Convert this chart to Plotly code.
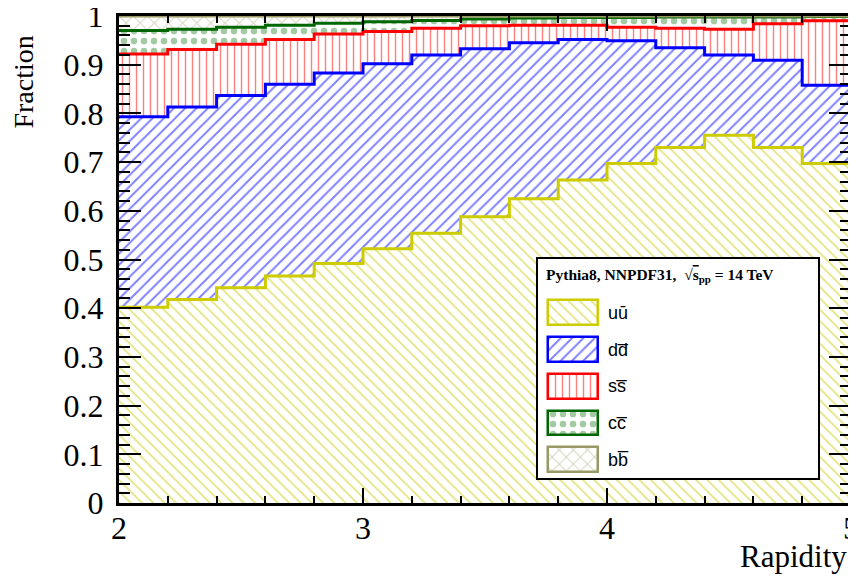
import plotly.graph_objects as go

# ---- data (fraction of each quark-antiquark flavour per rapidity bin) ----
bin_edges = [2.0, 2.2, 2.4, 2.6, 2.8, 3.0, 3.2, 3.4, 3.6, 3.8, 4.0, 4.2, 4.4, 4.6, 4.8, 5.0]
frac_uu = [0.402, 0.418, 0.442, 0.466, 0.492, 0.522, 0.554, 0.588, 0.625, 0.663, 0.697, 0.730, 0.755, 0.730, 0.697]
frac_dd = [0.391, 0.395, 0.395, 0.394, 0.391, 0.380, 0.366, 0.345, 0.320, 0.289, 0.252, 0.205, 0.165, 0.179, 0.161]
frac_ss = [0.129, 0.118, 0.105, 0.092, 0.080, 0.066, 0.055, 0.047, 0.036, 0.029, 0.028, 0.040, 0.053, 0.075, 0.132]
frac_cc = [0.048, 0.042, 0.035, 0.029, 0.022, 0.020, 0.016, 0.014, 0.015, 0.016, 0.020, 0.023, 0.025, 0.014, 0.009]
frac_bb = [0.030, 0.027, 0.023, 0.019, 0.015, 0.012, 0.009, 0.006, 0.004, 0.003, 0.003, 0.002, 0.002, 0.002, 0.001]

labels = ["u\u016B", "dd\u0305", "ss\u0305", "cc\u0305", "bb\u0305"]
y_ticks = [0, 0.1, 0.2, 0.3, 0.4, 0.5, 0.6, 0.7, 0.8, 0.9, 1]
y_ticktext = ["0", "0.1", "0.2", "0.3", "0.4", "0.5", "0.6", "0.7", "0.8", "0.9", "1"]
x_ticks = [2, 3, 4, 5]

styles = [
    dict(line="#CCCC00", fg="#C8C800", shape="\\", size=8, sol=0.22),
    dict(line="#0000FF", fg="#0000FF", shape="/", size=8, sol=0.24),
    dict(line="#FF0000", fg="#FF0000", shape="|", size=7, sol=0.2),
    dict(line="#006600", fg="#4A964A", shape=".", size=10, sol=0.35),
    dict(line="#999966", fg="#A8A880", shape="x", size=10, sol=0.18),
]

series = [frac_uu, frac_dd, frac_ss, frac_cc, frac_bb]

fig = go.Figure()

# stacked step histograms
cum = [0.0] * len(frac_uu)
for i, (vals, st, lab) in enumerate(zip(series, styles, labels)):
    cum = [a + b for a, b in zip(cum, vals)]
    fig.add_trace(go.Scatter(
        x=bin_edges, y=cum + [cum[-1]],
        mode="lines", line=dict(shape="hv", color=st["line"], width=3),
        fill="tozeroy" if i == 0 else "tonexty",
        fillcolor="rgba(0,0,0,0)",
        fillpattern=dict(shape=st["shape"], fgcolor=st["fg"], bgcolor="white",
                         size=st["size"], solidity=st["sol"], fillmode="overlay"),
        name=lab, showlegend=False, hoverinfo="skip",
    ))

# ---- custom legend drawn in an inset subplot ----
rows = list(range(len(labels)))
for i, (st, lab) in enumerate(zip(styles, labels)):
    fig.add_trace(go.Bar(
        x=[50], y=[rows[i]], base=[10], orientation="h", width=0.68,
        marker=dict(color="white", line=dict(color=st["line"], width=2.5),
                    pattern=dict(shape=st["shape"], fgcolor=st["fg"], bgcolor="white",
                                 size=st["size"], solidity=st["sol"], fillmode="overlay")),
        xaxis="x2", yaxis="y2", showlegend=False, hoverinfo="skip",
    ))
    fig.add_annotation(x=68, y=rows[i], xref="x2", yref="y2", text=lab,
                       showarrow=False, xanchor="left", yanchor="middle",
                       font=dict(family="Liberation Sans", size=18, color="black"))

fig.add_annotation(x=6, y=-1.03, xref="x2", yref="y2",
                   text="<b>Pythia8, NNPDF31,  \u221A<span style='text-decoration:overline'>s</span><sub>pp</sub> = 14 TeV</b>",
                   showarrow=False, xanchor="left", yanchor="middle",
                   font=dict(family="Liberation Serif", size=15.5, color="black"))

tickfont = dict(family="Liberation Serif", size=32, color="black")
fig.update_layout(
    width=848, height=568,
    margin=dict(l=111, r=5, t=8, b=73, autoexpand=False),
    paper_bgcolor="white", plot_bgcolor="white",
    xaxis=dict(range=[2, 5], tickvals=x_ticks, ticks="inside", ticklen=15, tickwidth=2,
               tickcolor="black", showline=True, linewidth=3, linecolor="black",
               mirror="ticks", showgrid=False, zeroline=False, tickfont=tickfont,
               ticklabelstandoff=-5, ticklabeloverflow="allow", automargin=False,
               minor=dict(dtick=0.2, ticklen=7, tickwidth=2, tickcolor="black",
                          ticks="inside", showgrid=False)),
    yaxis=dict(range=[0, 1], tickvals=y_ticks, ticktext=y_ticktext,
               ticks="inside", ticklen=22, tickwidth=2,
               tickcolor="black", showline=True, linewidth=3, linecolor="black",
               mirror="ticks", showgrid=False, zeroline=False, tickfont=tickfont,
               ticklabelstandoff=6, ticklabeloverflow="allow", automargin=False,
               minor=dict(dtick=0.02, ticklen=11, tickwidth=2, tickcolor="black",
                          ticks="inside", showgrid=False)),
    xaxis2=dict(domain=[0.5724, 0.955], range=[0, 280], anchor="y2", showgrid=False,
                zeroline=False, showticklabels=False, ticks="", showline=True,
                linewidth=1.5, linecolor="black", mirror=True, fixedrange=True,
                automargin=False),
    yaxis2=dict(domain=[0.0513, 0.501], range=[4.5, -1.47], anchor="x2", showgrid=False,
                zeroline=False, showticklabels=False, ticks="", showline=True,
                linewidth=1.5, linecolor="black", mirror=True, fixedrange=True,
                automargin=False),
    bargap=0,
)

fig.add_annotation(x=1.0, y=-0.109, xref="paper", yref="paper", text="Rapidity",
                   showarrow=False, xanchor="right", yanchor="middle", xshift=-2,
                   font=dict(family="Liberation Serif", size=31, color="black"))
fig.add_annotation(x=-0.131, y=1.0, xref="paper", yref="paper", text="Fraction",
                   showarrow=False, textangle=-90, xanchor="center", yanchor="top",
                   yshift=-18,
                   font=dict(family="Liberation Serif", size=28, color="black"))

fig.write_html("out.html")
